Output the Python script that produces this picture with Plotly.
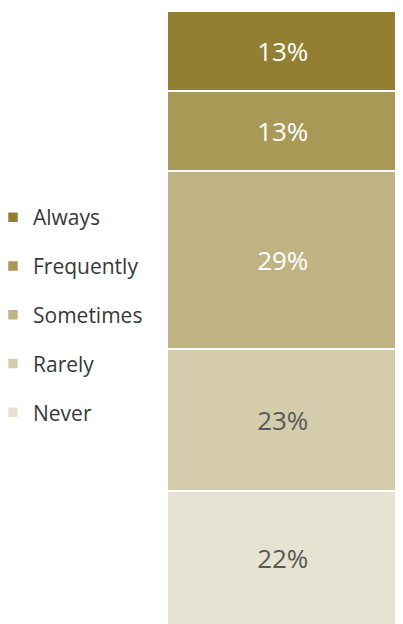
import plotly.graph_objects as go

categories = ["Never", "Rarely", "Sometimes", "Frequently", "Always"]
values = [22, 23, 29, 13, 13]
labels = ["22%", "23%", "29%", "13%", "13%"]
colors = ["#E7E3D3", "#D4CCAB", "#BFB383", "#A99957", "#937F31"]
text_colors = ["#595959", "#595959", "#FFFFFF", "#FFFFFF", "#FFFFFF"]
legend_ranks = [5, 4, 3, 2, 1]

fig = go.Figure()
for cat, v, lab, c, tc, rk in zip(categories, values, labels, colors, text_colors, legend_ranks):
    fig.add_trace(go.Bar(
        x=["Q"], y=[v], name=cat, legendgroup=cat, legendrank=rk,
        marker=dict(color=c, line=dict(color="white", width=2.5)),
        text=[lab], textposition="inside", insidetextanchor="middle",
        textfont=dict(color=tc, size=26, family="Open Sans"),
        hoverinfo="name+y",
    ))

fig.update_layout(
    width=403, height=624,
    barmode="stack", bargap=0,
    margin=dict(l=159, r=12, t=3, b=0, autoexpand=False),
    paper_bgcolor="white", plot_bgcolor="white",
    xaxis=dict(visible=False, range=[-0.5, 0.5]),
    yaxis=dict(visible=False, range=[-1, 100]),
    legend=dict(
        xref="container", yref="container",
        x=0, y=0.508, xanchor="left", yanchor="middle",
        traceorder="grouped", tracegroupgap=18.5,
        indentation=-15,
        font=dict(family="Open Sans", size=21, color="#383838"),
        itemwidth=30,
    ),
    font=dict(family="Open Sans"),
)

fig.write_html("out.html")
